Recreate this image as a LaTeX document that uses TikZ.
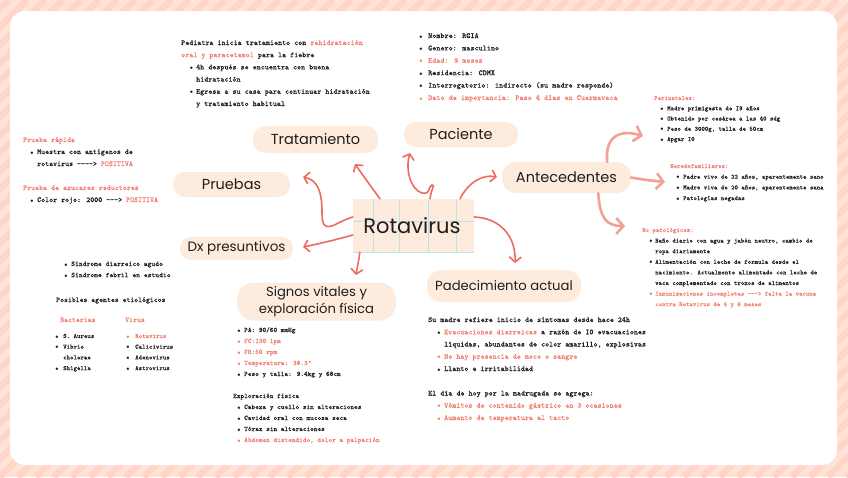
\documentclass[tikz,border=0pt]{standalone}
\usepackage{fontspec}
\newfontfamily\hand{Poppins}
\newfontfamily\tyw{Latin Modern Mono}[FakeBold=0.3]
\usetikzlibrary{arrows.meta,calc}
\definecolor{peach}{HTML}{FDEBDD}
\definecolor{coral}{HTML}{EE6C5F}
\definecolor{pinkarr}{HTML}{F2A195}
\definecolor{redtxt}{HTML}{F27D70}
\definecolor{ink}{HTML}{1E1E1E}
\definecolor{stripeA}{HTML}{FFE3D9}
\definecolor{stripeB}{HTML}{FFD5C7}
\definecolor{gridc}{HTML}{C3E1DF}
\newcommand\R[1]{\textcolor{redtxt}{#1}}
\newcommand\bu[2]{\hspace*{#1}\makebox[#2][l]{$\scriptstyle\bullet$}}
\newcommand\fs[2]{\fontsize{#1}{#2}\selectfont\tyw}
\newcommand\arrfour{-{}-{}-{}-{}>}
\newcommand\arrthree{-{}-{}-{}>}
\begin{document}
\begin{tikzpicture}[x=1pt,y=-1pt,
  blk/.style={anchor=base west, inner sep=0pt, text=ink},
  pill/.style={fill=peach, rounded corners=12pt, inner sep=0pt, text=ink,
    font=\hand\fontsize{14.5}{17}\selectfont},
  arr/.style={draw=coral, line width=1.6pt, line cap=round,
    -{Straight Barb[length=5pt,width=12pt]}},
  parr/.style={draw=pinkarr, line width=2.6pt, line cap=round,
    -{Straight Barb[length=7pt,width=16pt]}}]
\useasboundingbox (0,0) rectangle (848,477);
% background stripes
\begin{scope}
\clip (0,0) rectangle (848,477);
\fill[stripeA] (0,0) rectangle (848,477);
\foreach \i in {-486,-468,...,850} \draw[stripeB, line width=6.4pt] (\i,477) -- (\i+477,0);
\end{scope}
\fill[white, rounded corners=15pt] (10,11) rectangle (837,465);

% central node
\node[fill=peach, minimum width=121pt, minimum height=53pt, inner sep=0pt] (rot) at (413.5,225.5) {};
\foreach \gx in {373,399,428,456} \draw[gridc, line width=1pt] (\gx,199) -- (\gx,252);
\draw[gridc, line width=1pt] (353,221) -- (474,221);
\draw[gridc, line width=1pt] (353,252) -- (474,252);
\node[inner sep=0pt, text=ink, font=\hand\fontsize{21}{24}\selectfont] (rottxt) at (412,226) {Rotavirus};

% topic nodes
\node[pill, minimum width=125pt, minimum height=27pt] (trat) at (315.5,139.5) {Tratamiento};
\node[pill, minimum width=114pt, minimum height=25pt] (pac) at (461,134.5) {Paciente};
\node[pill, minimum width=129pt, minimum height=31pt, rounded corners=14pt] (ante) at (566.5,177.5) {Antecedentes};
\node[pill, minimum width=117pt, minimum height=25pt] (prue) at (231.5,184.5) {Pruebas};
\node[pill, minimum width=113pt, minimum height=23pt, rounded corners=11pt,
  font=\hand\fontsize{13.5}{16}\selectfont] (dx) at (236.5,248.5) {Dx presuntivos};
\node[pill, minimum width=154pt, minimum height=32pt, rounded corners=15pt,
  font=\hand\fontsize{13.2}{16}\selectfont] (pad) at (504,286) {Padecimiento actual};
\node[pill, minimum width=159pt, minimum height=38pt, rounded corners=17pt, align=center,
  font=\hand\fontsize{13.2}{16.5}\selectfont] (sig) at (316.5,301.5) {Signos vitales y\\exploración física};

% arrow tips
\coordinate (tTrat) at (355,164);
\coordinate (tPac) at (410,153);
\coordinate (tAnt) at (497,177);
\coordinate (tPad) at (515,263);
\coordinate (tPru) at (303,177);
\coordinate (tDx) at (303,247);
\coordinate (tSig) at (356,275);
\coordinate (tPeri) at (643,136);
\coordinate (tHere) at (665,182);
\coordinate (tNop) at (625,226);

\draw[arr] ([xshift=-33.5pt]rot.north) .. controls (372,188) and (362,174) .. (tTrat);
\draw[arr] ([xshift=16.5pt]rot.north) .. controls (430,192) and (436,184) .. (432,185)
  .. controls (428,186) and (431,195) .. (422,193) .. controls (411,190) and (405,170) .. (tPac);
\draw[arr] ([xshift=46.5pt]rot.north) .. controls (468,183) and (482,174) .. (tAnt);
\draw[arr] ([yshift=8.5pt]rot.east) .. controls (500,218) and (516,236) .. (tPad);
\draw[arr] ([yshift=8.5pt]rot.west) .. controls (335,222) and (322,238) .. (322,213)
  .. controls (322,192) and (318,180) .. (tPru);
\draw[arr] ([yshift=-9.5pt]rot.west) .. controls (335,240) and (318,244) .. (tDx);
\draw[arr] ([xshift=7pt]rot.south west) .. controls (359,260) and (357,268) .. (tSig);

\draw[parr] ([xshift=-24pt]ante.north east) .. controls (605,140) and (616,128) .. (tPeri);
\draw[parr] (ante.east) .. controls (645,180) and (655,181) .. (tHere);
\draw[parr] ([xshift=-33pt]ante.south east) .. controls (600,218) and (606,226) .. (tNop);

% text blocks
\node[blk, font=\fs{7.6}{12.2}] (btrat) at (181,45) {\begin{tabular}[t]{@{}l@{}}
Pediatra inicia tratamiento con \R{rehidratación}\\
\R{oral y paracetamol} para la fiebre\\
\bu{8.5pt}{6.5pt}4h después se encuentra con buena\\
\hspace*{15pt}hidratación\\
\bu{8.5pt}{6.5pt}Egresa a su casa para continuar hidratación\\
\hspace*{15pt}y tratamiento habitual
\end{tabular}};

\node[blk, font=\fs{7.7}{12.4}] (bpac) at (419,38) {\begin{tabular}[t]{@{}l@{}}
\bu{0pt}{9pt}Nombre: RGIA\\
\bu{0pt}{9pt}Genero: masculino\\
\R{\bu{0pt}{9pt}Edad: 9 meses}\\
\bu{0pt}{9pt}Residencia: CDMX\\
\bu{0pt}{9pt}Interrogatorio: indirecto (su madre responde)\\
\R{\bu{0pt}{9pt}Dato de importancia: Paso 4 días en Cuermavaca}
\end{tabular}};

\node[blk, font=\fs{6.45}{10.25}] (bperi) at (654,100) {\begin{tabular}[t]{@{}l@{}}
\R{Perinatales:}\\
\bu{6pt}{7pt}Madre primigesta de I9 años\\
\bu{6pt}{7pt}Obtenido por cesárea a las 40 sdg\\
\bu{6pt}{7pt}Peso de 3000g, talla de 50cm\\
\bu{6pt}{7pt}Apgar I0
\end{tabular}};

\node[blk, font=\fs{6.45}{10.7}] (bhere) at (670,168) {\begin{tabular}[t]{@{}l@{}}
\R{Heredofamiliares:}\\
\bu{6pt}{7pt}Padre vivo de 22 años, aparentemente sano\\
\bu{6pt}{7pt}Madre viva de 20 años, aparentemente sana\\
\bu{6pt}{7pt}Patologías negadas
\end{tabular}};

\node[blk, font=\fs{6.45}{10.6}] (bnopat) at (642,232) {\begin{tabular}[t]{@{}l@{}}
\R{No patológicos:}\\
\bu{7pt}{6pt}Baño diario con agua y jabón neutro, cambio de\\
\hspace*{13pt}ropa diariamente\\
\bu{7pt}{6pt}Alimentación con leche de formula desde el\\
\hspace*{13pt}nacimiento. Actualmente alimentado con leche de\\
\hspace*{13pt}vaca complementado con trozos de alimentos\\
\R{\bu{7pt}{6pt}Inmunizaciones incompletas \arrthree{} falta la vacuna}\\
\R{\hspace*{13pt}contra Rotavirus de 4 y 6 meses}
\end{tabular}};

\node[blk, font=\fs{7.5}{12}] (bprue) at (23,142) {\begin{tabular}[t]{@{}l@{}}
\R{Prueba rápida}\\
\bu{7pt}{7pt}Muestra con antígenos de\\
\hspace*{14pt}rotavirus \arrfour{} \R{POSITIVA}\\[12pt]
\R{Prueba de azucares reductores}\\
\bu{7pt}{7pt}Color rojo: 2000 \arrthree{} \R{POSITIVA}
\end{tabular}};

\node[blk, font=\fs{7.2}{11.2}] (bdx) at (64,266) {\begin{tabular}[t]{@{}l@{}}
\bu{0pt}{7pt}Síndrome diarreico agudo\\
\bu{0pt}{7pt}Síndrome febril en estudio
\end{tabular}};

\node[blk, font=\fs{7.35}{11}] (bposib) at (56,302) {Posibles agentes etiológicos};
\node[blk, font=\fs{7.4}{11}] (bbactT) at (60,322) {\R{Bacterias}};
\node[blk, font=\fs{7.4}{11}] (bvirT) at (125,322) {\R{Virus}};
\node[blk, font=\fs{6.5}{10.7}] (bbact) at (55,338) {\begin{tabular}[t]{@{}l@{}}
\bu{0pt}{8pt}S. Aureus\\
\bu{0pt}{8pt}Vibrio\\
\hspace*{8pt}cholerae\\
\bu{0pt}{8pt}Shigella
\end{tabular}};
\node[blk, font=\fs{6.5}{10.7}] (bvir) at (126,338) {\begin{tabular}[t]{@{}l@{}}
\R{\bu{0pt}{9pt}Rotavirus}\\
\bu{0pt}{9pt}Calicivirus\\
\bu{0pt}{9pt}Adenovirus\\
\bu{0pt}{9pt}Astrovirus
\end{tabular}};

\node[blk, font=\fs{6.9}{11}] (bsig) at (233,332) {\begin{tabular}[t]{@{}l@{}}
\bu{4pt}{7pt}PA: 90/60 mmHg\\
\R{\bu{4pt}{7pt}FC:I30 lpm}\\
\R{\bu{4pt}{7pt}FR:50 rpm}\\
\R{\bu{4pt}{7pt}Temperatura: 38.3°}\\
\bu{4pt}{7pt}Peso y talla: 9.4kg y 68cm\\[11pt]
Exploración física\\
\bu{4pt}{7pt}Cabeza y cuello sin alteraciones\\
\bu{4pt}{7pt}Cavidad oral con mucosa seca\\
\bu{4pt}{7pt}Tórax sin alteraciones\\
\R{\bu{4pt}{7pt}Abdomen distendido, dolor a palpación}
\end{tabular}};

\node[blk, font=\fs{7.6}{12.25}] (bpad) at (428,322) {\begin{tabular}[t]{@{}l@{}}
Su madre refiere inicio de síntomas desde hace 24h\\
\bu{9pt}{7pt}\R{Evacuaciones diarreicas} a razón de I0 evacuaciones\\
\hspace*{16pt}líquidas, abundantes de color amarillo, explosivas\\
\R{\bu{9pt}{7pt}No hay presencia de moco o sangre}\\
\bu{9pt}{7pt}Llanto e irritabilidad\\[12.25pt]
El día de hoy por la madrugada se agrega:\\
\R{\bu{9pt}{7pt}Vómitos de contenido gástrico en 3 ocasiones}\\
\R{\bu{9pt}{7pt}Aumento de temperatura al tacto}
\end{tabular}};
\end{tikzpicture}
\end{document}
